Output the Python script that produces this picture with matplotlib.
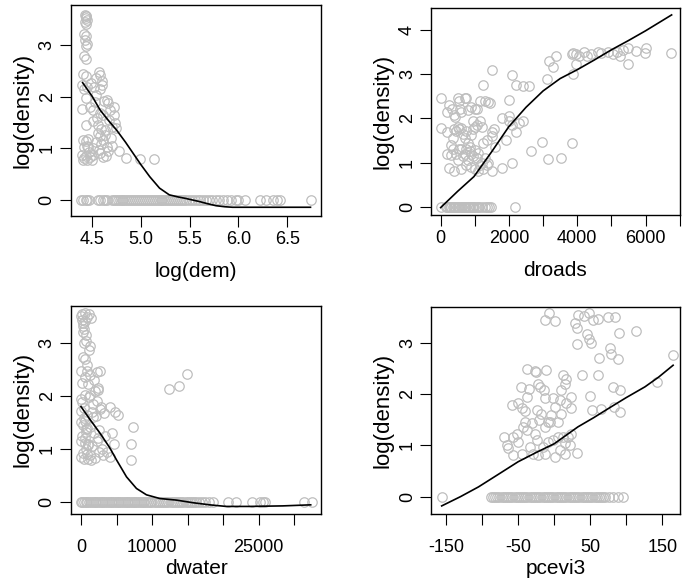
import numpy as np
import matplotlib
matplotlib.use('Agg')
import matplotlib.pyplot as plt

plt.rcParams['font.family'] = ['Liberation Sans', 'DejaVu Sans']

# --- panel 1: log(dem) ---
dem_x = [4.42, 4.44, 4.43, 4.45, 4.42, 4.44, 4.43, 4.41, 4.44, 4.42, 4.45, 4.43, 4.41, 4.43,
         4.40, 4.43, 4.39, 4.41, 4.45, 4.43, 4.39, 4.44, 4.40, 4.43, 4.46, 4.41, 4.45, 4.39,
         4.41, 4.43, 4.45, 4.47, 4.40,
         4.58, 4.57, 4.54, 4.49, 4.52, 4.60, 4.58, 4.54, 4.65, 4.66, 4.48, 4.51, 4.58, 4.61,
         4.68, 4.72, 4.72, 4.70, 4.73, 4.74, 4.51, 4.56, 4.59, 4.56, 4.58, 4.61, 4.54, 4.59,
         4.51, 4.46, 4.65, 4.66, 4.58, 4.51, 4.61, 4.64, 4.70, 4.77, 4.85, 4.99, 5.13, 4.48,
         4.50, 4.63, 4.55, 4.62, 4.67, 4.53, 4.60, 4.69, 4.57, 4.63]
dem_y = [3.58, 3.56, 3.52, 3.48, 3.45, 3.40, 3.55, 3.21, 3.18, 3.10, 3.02, 2.97, 2.78, 2.72,
         2.43, 2.40, 2.22, 2.15, 2.18, 1.98, 1.76, 1.45, 1.17, 1.14, 1.18, 1.02, 1.05, 0.88,
         0.82, 0.86, 0.78, 0.92, 0.78,
         2.42, 2.48, 2.35, 2.26, 2.18, 2.30, 2.14, 2.03, 1.94, 1.88, 1.80, 1.74, 1.68, 1.65,
         1.74, 1.80, 1.65, 1.42, 1.48, 1.40, 1.52, 1.45, 1.38, 1.29, 1.23, 1.17, 1.13, 1.08,
         1.00, 1.03, 1.03, 0.94, 0.90, 0.87, 0.84, 0.86, 1.05, 0.94, 0.81, 0.79, 0.80, 0.84,
         0.78, 1.25, 1.58, 1.92, 1.55, 1.90, 2.22, 1.20, 0.97, 1.35]
dem_x0 = [4.38, 4.40, 4.43, 4.45, 4.47, 4.56, 4.58, 4.61, 4.63, 4.65,
          4.70, 4.72, 4.74, 4.76, 4.78, 4.80, 4.82, 4.84, 4.86, 4.88, 4.90, 4.92, 4.94, 4.96,
          4.98, 5.00, 5.02, 5.04, 5.06, 5.08, 5.10, 5.12, 5.14, 5.16, 5.18, 5.20, 5.22, 5.24,
          5.26, 5.28, 5.30, 5.32, 5.34, 5.36, 5.38, 5.40, 5.42, 5.44, 5.46, 5.49, 5.52, 5.55,
          5.58, 5.61, 5.64, 5.67, 5.70, 5.73, 5.77, 5.80, 5.84, 5.88, 5.92,
          5.98, 6.00, 6.07, 6.22, 6.28, 6.36, 6.40, 6.43, 6.75]
dem_fit_x = [4.40, 4.50, 4.58, 4.66, 4.75, 4.84, 4.92, 5.00, 5.09, 5.19, 5.29, 5.38, 5.46,
             5.53, 5.60, 5.68, 5.77, 5.86, 5.94, 6.10, 6.28, 6.50, 6.74]
dem_fit_y = [2.27, 2.00, 1.74, 1.55, 1.35, 1.12, 0.90, 0.68, 0.45, 0.23, 0.10, 0.06, 0.03,
             0.00, -0.03, -0.07, -0.11, -0.13, -0.14, -0.14, -0.14, -0.14, -0.14]

# --- panel 2: droads ---
roads_x = [0, 200, 250, 320, 380, 430, 500, 530, 560, 600, 700, 740, 800, 900, 950, 1050, 1150,
           1250, 1300, 1400, 1450, 1000,
           0, 200, 300, 350, 400, 450, 500, 550, 600, 650, 700, 750, 800, 850, 900, 950, 1000,
           1050, 1150, 1200, 1250, 1350, 1500, 1500, 1550, 1600, 1800, 1900, 2000, 2000, 2100,
           2200, 2300, 2400, 2000,
           200, 250, 300, 350, 400, 450, 500, 550, 600, 650, 700, 750, 800, 850, 900, 900, 950,
           1000, 1050, 1100, 1150, 1200, 1250, 1300, 1350, 1400, 1500, 1800, 2100, 1100, 1000,
           600, 750,
           1500, 2100, 2200, 2400, 2580, 2650, 2970, 3100, 3140, 3170, 3290, 3370, 3520, 3840,
           3850, 3880, 3890, 3960, 3950, 4050, 4200, 4300, 4400, 4600, 4700, 4900, 5050, 5150,
           5250, 5350, 5500, 5500, 5710, 5980, 6010, 6760]
roads_y = [2.45, 2.15, 2.30, 2.20, 2.08, 2.02, 2.45, 2.40, 2.20, 2.15, 2.45, 2.45, 2.18, 2.25,
           1.95, 2.22, 2.40, 2.75, 2.40, 2.38, 2.35, 2.20,
           1.78, 1.70, 1.40, 1.55, 1.75, 1.72, 1.80, 1.75, 1.78, 1.65, 1.55, 1.72, 1.45, 1.35,
           1.62, 1.75, 1.80, 1.85, 1.95, 1.80, 1.45, 1.50, 1.70, 1.60, 1.75, 1.35, 2.00, 1.50,
           2.05, 1.95, 1.85, 1.70, 1.90, 1.93, 2.42,
           1.20, 0.88, 1.18, 1.30, 0.80, 1.20, 1.05, 1.30, 0.85, 1.15, 1.20, 0.95, 1.05, 1.25,
           0.90, 1.20, 1.15, 0.85, 1.10, 0.80, 0.95, 1.00, 0.85, 1.10, 0.95, 1.00, 0.80, 0.87,
           1.00, 1.22, 1.28, 1.30, 1.30,
           3.10, 2.97, 2.75, 2.72, 2.72, 1.27, 1.47, 2.88, 1.08, 3.30, 3.17, 3.40, 1.10, 1.45,
           3.45, 3.48, 3.00, 3.22, 3.45, 3.40, 3.50, 3.42, 3.45, 3.50, 3.48, 3.50, 3.45, 3.50,
           3.42, 3.55, 3.58, 3.23, 3.52, 3.47, 3.58, 3.47]
roads_x0 = [0, 150, 190, 230, 270, 310, 350, 390, 430, 470, 510, 550, 590, 630, 670, 710, 750,
            790, 830, 870, 910, 950, 990, 1030, 1080, 1130, 1200, 1300, 1360, 1420, 1460, 2170]
roads_fit_x = [0, 500, 973, 1500, 1995, 2500, 3000, 3500, 4000, 4500, 5000, 5500, 6000, 6764]
roads_fit_y = [-0.02, 0.35, 0.68, 1.25, 1.81, 2.25, 2.62, 2.90, 3.10, 3.32, 3.55, 3.76, 3.98, 4.34]

# --- panel 3: dwater ---
water_x = [0, 200, 500, 800, 1100, 1400, 300, 600, 250, 450, 700, 400, 1200, 1100, 300, 600,
           0, 800, 2200, 2660, 600, 1300, 1800, 2400, 1000, 2000, 2430, 0, 500, 1100, 1700,
           2300, 2800, 0, 400, 900, 1500, 2100, 2700, 3300, 4070, 4770, 5230,
           0, 300, 700, 1200, 1800, 2500, 3400, 4300, 0, 500, 1000, 1600, 2200, 2900, 3600,
           4670, 4070, 0, 400, 900, 1400, 2000, 2600, 3100, 200, 700, 1200, 1700, 2400,
           100, 350, 650, 900, 1250, 150, 450, 750, 1050, 300, 550, 850, 200, 600, 1000,
           7340, 7100, 7000, 12340, 13740, 14900]
water_y = [3.52, 3.56, 3.58, 3.50, 3.55, 3.48, 3.38, 3.42, 3.22, 3.28, 3.15, 3.00, 2.95, 2.87,
           2.75, 2.70, 2.48, 2.48, 2.46, 2.48, 2.37, 2.40, 2.30, 2.15, 2.22, 2.10, 2.12,
           1.95, 2.02, 1.98, 1.85, 1.90, 1.80, 1.72, 1.78, 1.65, 1.70, 1.62, 1.75, 1.68, 1.80,
           1.70, 1.64,
           1.50, 1.45, 1.38, 1.42, 1.30, 1.35, 1.25, 1.30, 1.15, 1.20, 1.10, 1.05, 1.15, 1.00,
           0.95, 1.10, 0.85, 0.85, 0.80, 0.90, 0.78, 0.82, 0.95, 0.88, 1.25, 1.00, 0.88, 1.60,
           1.20, 3.45, 3.32, 3.05, 2.58, 2.02, 1.88, 1.58, 1.32, 1.08, 0.92, 1.12, 1.40, 2.25,
           1.52, 0.80,
           1.42, 1.09, 0.79, 2.14, 2.20, 2.42]
water_x0 = [0, 150, 400, 650, 900, 1150, 1400, 1650, 1900, 2150, 2400, 2650, 2900, 3150, 3400,
            3650, 3900, 4150, 4400, 4650, 4900, 5150, 5400, 5650, 5900, 6150, 6400, 6650, 6900,
            7150, 7400, 7650, 7900, 8150, 8400, 8650, 8900, 9150, 9400, 9650, 9900, 10200,
            10500, 10800, 11100, 11400, 11700, 12000, 12300, 12600, 12900, 13200, 13500, 13800,
            14100, 14400, 14700, 15000, 15300, 15600, 15900, 16200, 16600, 17000, 17400, 18000,
            18600, 20600, 21800, 24000, 25100, 25600, 25900, 31400, 32550]
water_fit_x = [0, 1300, 2660, 4000, 5000, 6400, 7800, 9200, 11075, 13400, 15750, 18100,
               20400, 23700, 28360, 32300]
water_fit_y = [1.80, 1.55, 1.30, 1.03, 0.79, 0.47, 0.25, 0.13, 0.06, 0.03, -0.02, -0.06,
               -0.09, -0.09, -0.08, -0.06]

# --- panel 4: pcevi3 ---
evi_x = [-69, -66, -64, -57, -57, -52, -50, -45, -58, -50, -45, -41, -46, -35, -37, -27, -25,
         -22, -20, -11, -37, -24, -18, -21, -13, -8, -41, -43, -38, -31, -27, -24, -34, -29,
         -22, -13, -15, -8, -1, 1, 8, 15, 6, 12, 19, 24, 15, 22, 32, -6, -4, 1, 8, 10, 15,
         12, 17, 24, 17, 24, 10, 6, -1, -13, -14,
         -7, -13, 1, 29, 33, 42, 49, 54, 61, 75, 84, 32, 31, 46, 49, 51, 90, 113, 62, 77,
         79, 88, 165, 143, 82, 92, 50, 52, 65, 83, 91, 61, 38]
evi_y = [1.17, 1.00, 0.94, 0.81, 1.17, 1.23, 1.07, 0.84, 1.79, 1.82, 1.72, 1.66, 2.14, 2.09,
         2.48, 2.45, 2.43, 2.20, 2.14, 2.47, 1.94, 1.69, 1.62, 1.50, 1.36, 1.46, 1.46, 1.36,
         1.30, 1.43, 1.23, 1.10, 0.97, 0.84, 0.81, 0.84, 0.97, 1.07, 1.10, 0.78, 0.91, 0.84,
         1.17, 1.17, 1.17, 1.23, 1.04, 1.00, 0.86, 1.46, 1.59, 1.75, 1.88, 2.08, 2.20, 2.37,
         2.30, 1.95, 1.82, 1.72, 1.62, 1.46, 1.92, 1.92, 2.08,
         3.57, 3.44, 3.43, 3.39, 3.54, 3.51, 3.57, 3.44, 3.47, 3.49, 3.49, 3.28, 2.97, 3.17,
         3.08, 2.99, 3.19, 3.23, 2.71, 2.89, 2.77, 2.69, 2.75, 2.23, 2.14, 2.08, 1.96, 1.68,
         1.70, 1.75, 1.65, 2.37, 2.37]
evi_x0 = [-156, -88, -85, -82, -79, -76, -73, -70, -67, -64, -61, -58, -55, -52, -49, -46,
          -43, -40, -37, -34, -31, -28, -25, -22, -19, -16, -13, -10, -7, -4, -1, 2, 5, 8,
          11, 14, 17, 20, 23, 26, 29, 32, 35, 38, 41, 44, 47, 50, 53, 56, 59, 62, 65, 68, 71,
          76, 81, 88, 95]
evi_fit_x = [-156, -130, -105, -78, -50, -25, 0, 33, 55, 79, 100, 126, 145, 165]
evi_fit_y = [-0.18, 0.00, 0.19, 0.43, 0.68, 0.86, 1.03, 1.36, 1.54, 1.75, 1.93, 2.14, 2.33, 2.56]

grey = '#BEBEBE'

fig = plt.figure(figsize=(6.88, 5.83), dpi=100)

panels = [
    ([0.1032, 0.6295, 0.3634, 0.362], dem_x, dem_y, dem_x0, dem_fit_x, dem_fit_y,
     (4.281, 6.848), (-0.309, 3.772), [4.5, 5.0, 5.5, 6.0, 6.5],
     ['4.5', '5.0', '5.5', '6.0', '6.5'], [0, 1, 2, 3], 'log(dem)', 3, 10),
    ([0.6269, 0.6312, 0.3610, 0.3546], roads_x, roads_y, roads_x0, roads_fit_x, roads_fit_y,
     (-274, 6974), (-0.188, 4.49), [0, 1000, 2000, 3000, 4000, 5000, 6000, 7000],
     ['0', '', '2000', '', '4000', '', '6000', ''], [0, 1, 2, 3, 4], 'droads', 3, 10),
    ([0.1032, 0.1184, 0.3634, 0.3572], water_x, water_y, water_x0, water_fit_x, water_fit_y,
     (-1406, 33750), (-0.233, 3.712), [0, 5000, 10000, 15000, 20000, 25000, 30000],
     ['0', '', '10000', '', '', '25000', ''], [0, 1, 2, 3], 'dwater', 10, 2.5),
    ([0.6269, 0.1184, 0.3610, 0.3555], evi_x, evi_y, evi_x0, evi_fit_x, evi_fit_y,
     (-170.4, 174.1), (-0.337, 3.70), [-150, -100, -50, 0, 50, 100, 150],
     ['-150', '', '-50', '', '50', '', '150'], [0, 1, 2, 3], 'pcevi3', 10, 2.5),
]

for rect, px, py, px0, fx, fy, xl, yl, xt, xtl, yt, xlab, xpad, lpad in panels:
    ax = fig.add_axes(rect)
    ax.plot(px, py, 'o', mfc='none', mec=grey, ms=6.8, mew=0.9)
    ax.plot(px0, np.zeros(len(px0)), 'o', mfc='none', mec=grey, ms=6.8, mew=0.9)
    ax.plot(fx, fy, color='black', lw=1.2)
    ax.set_xlim(xl)
    ax.set_ylim(yl)
    ax.set_xticks(xt)
    ax.set_xticklabels(xtl)
    ax.set_yticks(yt)
    ax.set_yticklabels([str(v) for v in yt], rotation=90, va='center')
    ax.tick_params(direction='out', length=8, width=0.8, labelsize=13, pad=3)
    ax.tick_params(axis='x', pad=xpad)
    for s in ax.spines.values():
        s.set_linewidth(1.0)
    ax.set_xlabel(xlab, fontsize=15, labelpad=lpad)
    ax.set_ylabel('log(density)', fontsize=16, labelpad=4)

fig.savefig('out.png', dpi=100)
